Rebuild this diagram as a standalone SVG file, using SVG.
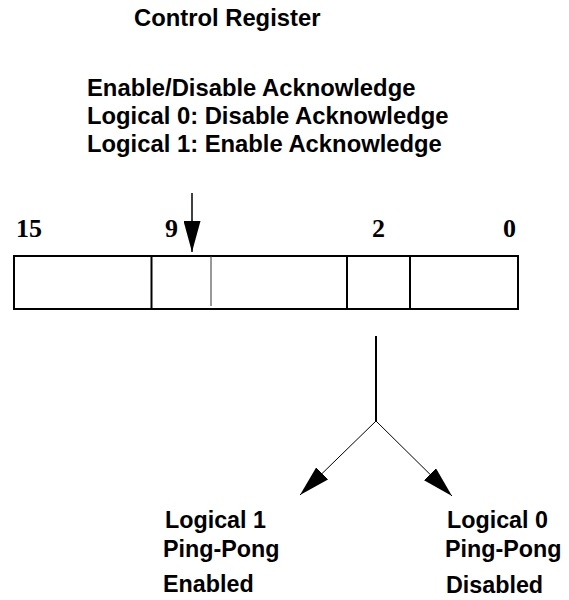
<svg xmlns="http://www.w3.org/2000/svg" width="569" height="600" viewBox="0 0 569 600">
<style>
.lbl{font-family:"Liberation Sans",Arial,sans-serif;font-weight:bold;font-size:23.8px;fill:#000}
.sub{font-family:"Liberation Sans",Arial,sans-serif;font-weight:bold;font-size:23.3px;fill:#000}
.bit{font-family:"Liberation Serif","Times New Roman",serif;font-weight:bold;font-size:26px;fill:#000}
.box{fill:#fff;stroke:#000;stroke-width:2}
.div{stroke:#000;stroke-width:2}
.thin{stroke:#333;stroke-width:1}
.conn{fill:none;stroke:#000}
</style>
<defs>
<marker id="ah" viewBox="0 0 31 17" refX="31" refY="8.5" markerWidth="31" markerHeight="17" markerUnits="userSpaceOnUse" orient="auto">
<path d="M0,0 L31,8.5 L0,17 Z" fill="#000"/>
</marker>
</defs>
<rect width="569" height="600" fill="#fff"/>
<g id="title"><text class="lbl" x="134" y="26">Control Register</text></g>
<g id="ack-note">
<text class="lbl" x="87" y="96">Enable/Disable Acknowledge</text>
<text class="lbl" x="87" y="124">Logical 0: Disable Acknowledge</text>
<text class="lbl" x="87" y="152">Logical 1: Enable Acknowledge</text>
</g>
<g id="register">
<text class="bit" x="16" y="237">15</text>
<text class="bit" x="165" y="237">9</text>
<text class="bit" x="372" y="237">2</text>
<text class="bit" x="503" y="237">0</text>
<rect class="box" x="14" y="256" width="504" height="53"/>
<line class="div" x1="151.5" y1="256" x2="151.5" y2="309"/>
<line class="thin" x1="211" y1="256" x2="211" y2="306"/>
<line class="div" x1="347" y1="256" x2="347" y2="309"/>
<line class="div" x1="410" y1="256" x2="410" y2="309"/>
</g>
<g id="enabled-note">
<text class="sub" x="165" y="528">Logical 1</text>
<text class="sub" x="163" y="557">Ping-Pong</text>
<text class="sub" x="163" y="592">Enabled</text>
</g>
<g id="disabled-note">
<text class="sub" x="447" y="528">Logical 0</text>
<text class="sub" x="445" y="557">Ping-Pong</text>
<text class="sub" x="446" y="593">Disabled</text>
</g>
<g id="connectors">
<line class="conn" x1="192" y1="193" x2="192" y2="252" stroke-width="1.5" marker-end="url(#ah)"/>
<line class="conn" x1="376" y1="336" x2="376" y2="421" stroke-width="2"/>
<line class="conn" x1="376" y1="421" x2="300" y2="495" stroke="#444" stroke-width="1" marker-end="url(#ah)"/>
<line class="conn" x1="376" y1="421" x2="452" y2="496" stroke="#444" stroke-width="1" marker-end="url(#ah)"/>
</g>
</svg>
